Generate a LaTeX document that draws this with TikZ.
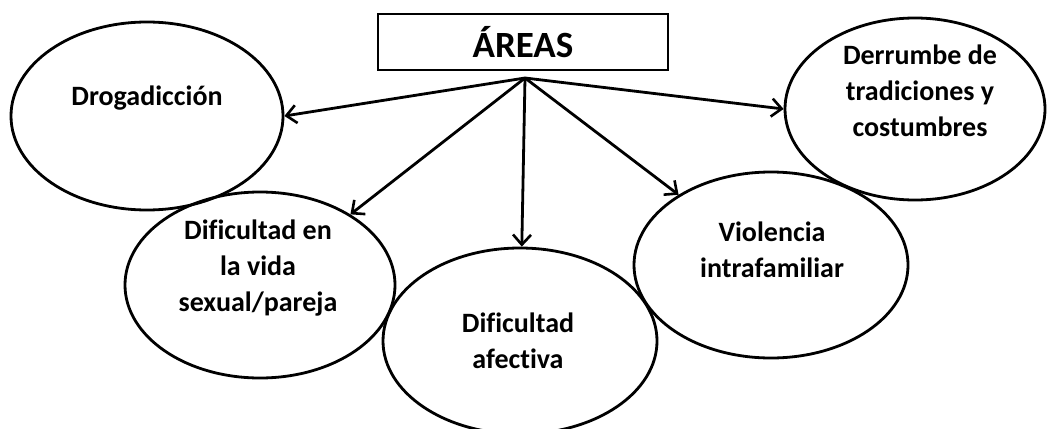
\documentclass[tikz,border=0pt]{standalone}
\usepackage{fontspec}
\setmainfont{Carlito}[Ligatures=NoCommon]
\usetikzlibrary{shapes.geometric,arrows.meta}
\tikzset{
  bubble/.style={draw, ellipse, line width=2.8pt, inner sep=0pt},
  lbl/.style={align=center, font=\bfseries\fontsize{28}{36}\selectfont},
  arr/.style={line width=2.8pt, -{Straight Barb[length=10pt,width=18pt,line width=2.6pt]}},
}
\begin{document}
\begin{tikzpicture}[x=1pt,y=-1pt]
\useasboundingbox (0,0) rectangle (1048,428);
\node[draw, line width=2.8pt, minimum width=290pt, minimum height=56pt, inner sep=0pt,
      font=\bfseries\fontsize{37}{40}\selectfont] (areas) at (523,42) {ÁREAS};
\coordinate (src) at (525,78);
\node[bubble, minimum width=272pt, minimum height=188pt] (drog) at (147,116) {};
\node[bubble, minimum width=260pt, minimum height=182pt] (der) at (915,109) {};
\node[bubble, minimum width=270pt, minimum height=186pt] (vida) at (260,285) {};
\node[bubble, minimum width=274pt, minimum height=186pt] (afec) at (520,341) {};
\node[bubble, minimum width=274pt, minimum height=186pt] (viol) at (771,265) {};
\node[lbl] (tdrog) at (147,98) {Drogadicción};
\node[lbl] (tder) at (920,91) {Derrumbe de\\tradiciones y\\costumbres};
\node[lbl] (tvida) at (258,268) {Dificultad en\\la vida\\sexual/pareja};
\node[lbl] (tafec) at (518,341) {Dificultad\\afectiva};
\node[lbl] (tviol) at (772,250) {Violencia\\intrafamiliar};
\draw[arr] (src) -- (drog.east);
\draw[arr] (src) -- (der.west);
\draw[arr] (src) -- (vida);
\draw[arr] (src) -- (afec);
\draw[arr] (src) -- (viol);
\end{tikzpicture}
\end{document}
